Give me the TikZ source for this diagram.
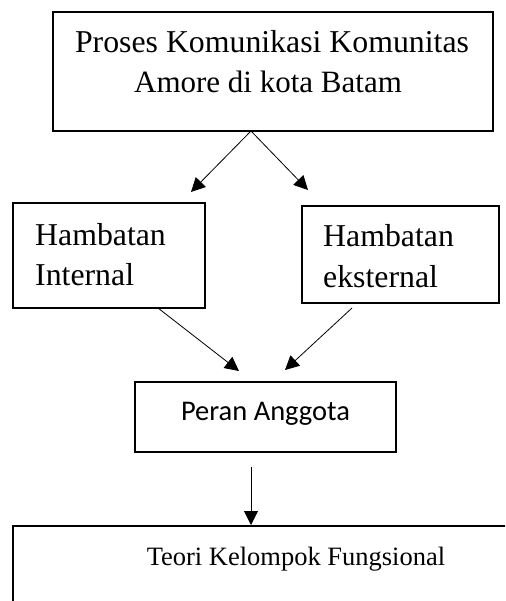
\documentclass[tikz,border=0pt]{standalone}
\usepackage{fontspec}
\setmainfont{Liberation Serif}
\newfontfamily\calib{Carlito}
\usetikzlibrary{arrows.meta}
\begin{document}
\begin{tikzpicture}[x=1pt,y=-1pt,
  boxline/.style={draw=black,line width=2pt},
  txt/.style={inner sep=0pt,anchor=base west},
  conn/.style={line width=0.8pt,-{Triangle[length=14pt,width=14pt]}}]
\useasboundingbox (0,0) rectangle (505,601);
\clip (0,0) rectangle (505,601);
% boxes
\path[boxline] (53,12) rectangle (493,131);
\node[inner sep=0pt] (top) at (273,71.5) [minimum width=440pt,minimum height=119pt] {};
\path[boxline] (13,203) rectangle (205,308);
\node[inner sep=0pt] (hint) at (109,255.5) [minimum width=192pt,minimum height=105pt] {};
\path[boxline] (302,206) rectangle (499,303);
\node[inner sep=0pt] (heks) at (400.5,254.5) [minimum width=197pt,minimum height=97pt] {};
\path[boxline] (135,382) rectangle (396,452);
\node[inner sep=0pt] (peran) at (265.5,417) [minimum width=261pt,minimum height=70pt] {};
\path[boxline] (13,526) rectangle (520,640);
\node[inner sep=0pt] (teori) at (266.5,583) [minimum width=507pt,minimum height=114pt] {};
% texts
\node[inner sep=0pt,anchor=base] (t1) at (272,53) {\fontsize{31.8}{40}\selectfont Proses Komunikasi Komunitas};
\node[inner sep=0pt,anchor=base] (t2) at (268,93) {\fontsize{31}{40}\selectfont Amore di kota Batam};
\node[txt] (t3) at (35,245) {\fontsize{31.8}{40}\selectfont Hambatan};
\node[txt] (t4) at (35,285) {\fontsize{31.8}{40}\selectfont Internal};
\node[txt] (t5) at (323,247) {\fontsize{31.8}{40}\selectfont Hambatan};
\node[txt] (t6) at (323,287) {\fontsize{31.8}{40}\selectfont eksternal};
\node[inner sep=0pt,anchor=base] (t7) at (265.5,420) {\calib\fontsize{28.5}{34}\selectfont Peran Anggota};
\node[inner sep=0pt,anchor=base] (t8) at (296,565) {\fontsize{26.5}{34}\selectfont Teori Kelompok Fungsional};
% connector points
\coordinate (s1) at (251,131);
\coordinate (e1) at (191,192);
\coordinate (e2) at (308,190);
\coordinate (s3) at (158,308);
\coordinate (e3) at (239,371);
\coordinate (s4) at (352,308);
\coordinate (e4) at (285,370);
\coordinate (s5) at (251,467);
\coordinate (e5) at (251,525);
\draw[conn] (s1) -- (e1);
\draw[conn] (s1) -- (e2);
\draw[conn] (s3) -- (e3);
\draw[conn] (s4) -- (e4);
\draw[conn] (s5) -- (e5);
\end{tikzpicture}
\end{document}
